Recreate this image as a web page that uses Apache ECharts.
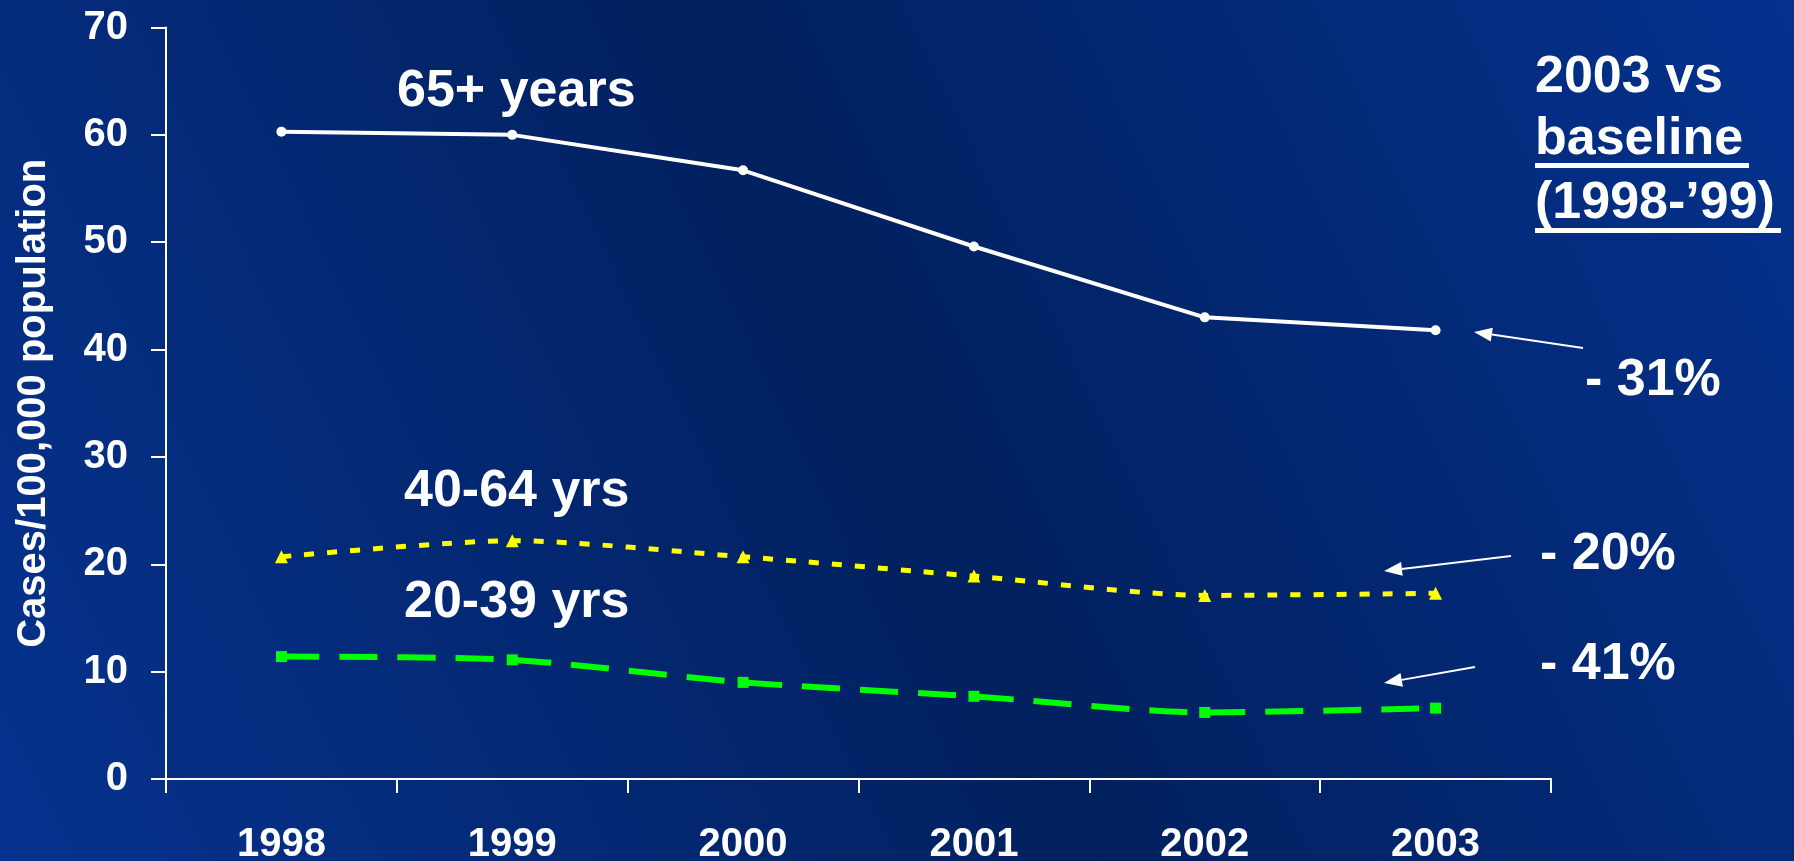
<!DOCTYPE html>
<html lang="en">
<head>
<meta charset="UTF-8">
<title>Cases per 100,000 by age group</title>
<style>
  html, body { margin: 0; padding: 0; background: #01205e; }
  #chart { width: 1794px; height: 861px; }
</style>
</head>
<body>
<div id="chart"></div>
<script src="https://cdn.jsdelivr.net/npm/echarts@6/dist/echarts.min.js"></script>
<script>
// values
var years = ['1998', '1999', '2000', '2001', '2002', '2003'];
var age65plus = [60.3, 60.0, 56.7, 49.6, 43.0, 41.8];
var age40to64 = [20.7, 22.2, 20.7, 18.9, 17.1, 17.3];
var age20to39 = [11.4, 11.1, 9.0, 7.7, 6.2, 6.6];
var changeLabels = ['- 31%', '- 20%', '- 41%'];

var FONT = 'Liberation Sans, Arial, sans-serif';

var chart = echarts.init(document.getElementById('chart'));

function txt(s, x, y) {
  return {
    type: 'text', x: x, y: y, silent: true,
    style: { text: s, fill: '#fff', font: 'bold 52px ' + FONT, align: 'left', verticalAlign: 'middle' }
  };
}

function underline(x1, x2, y) {
  return { type: 'rect', silent: true, shape: { x: x1, y: y, width: x2 - x1, height: 5 }, style: { fill: '#fff' } };
}

// thin white arrow, pointing from (x1,y1) to (x2,y2)
function arrow(x1, y1, x2, y2) {
  var a = Math.atan2(y2 - y1, x2 - x1);
  var len = 18, hw = 7;
  var bx = x2 - len * Math.cos(a), by = y2 - len * Math.sin(a);
  var px = -Math.sin(a) * hw, py = Math.cos(a) * hw;
  return {
    type: 'group', silent: true,
    children: [
      { type: 'line', shape: { x1: x1, y1: y1, x2: bx, y2: by }, style: { stroke: '#fff', lineWidth: 2 } },
      { type: 'polygon', shape: { points: [[x2, y2], [bx + px, by + py], [bx - px, by - py]] }, style: { fill: '#fff' } }
    ]
  };
}

var option = {
  backgroundColor: new echarts.graphic.LinearGradient(0, 1, 1, 0, [
    { offset: 0, color: '#06338f' },
    { offset: 0.5, color: '#01205e' },
    { offset: 1, color: '#04328e' }
  ]),
  animation: false,
  grid: { left: 166, right: 243, top: 27.5, bottom: 82, outerBoundsMode: 'none' },
  xAxis: {
    type: 'category',
    data: years,
    boundaryGap: true,
    axisLine: { lineStyle: { color: '#fff', width: 2 } },
    axisTick: { show: true, length: 14, interval: 0, lineStyle: { color: '#fff', width: 2 } },
    axisLabel: { color: '#fff', fontFamily: FONT, fontWeight: 'bold', fontSize: 40, margin: 46 },
    splitLine: { show: false }
  },
  yAxis: {
    type: 'value',
    min: 0, max: 70, interval: 10,
    name: 'Cases/100,000 population',
    nameLocation: 'middle',
    nameRotate: 90,
    nameGap: 112,
    nameTextStyle: { color: '#fff', fontFamily: FONT, fontWeight: 'bold', fontSize: 40 },
    axisLine: { show: true, lineStyle: { color: '#fff', width: 2 } },
    axisTick: { show: true, length: 15, lineStyle: { color: '#fff', width: 2 } },
    axisLabel: { color: '#fff', fontFamily: FONT, fontWeight: 'bold', fontSize: 40, margin: 38 },
    splitLine: { show: false }
  },
  series: [
    {
      name: '65+ years', type: 'line', data: age65plus,
      symbol: 'circle', symbolSize: 10, showAllSymbol: true,
      lineStyle: { color: '#fff', width: 4 },
      itemStyle: { color: '#fff' }
    },
    {
      name: '40-64 yrs', type: 'line', data: age40to64, smooth: 0.25,
      symbol: 'triangle', symbolSize: 13,
      lineStyle: { color: '#ffff00', width: 5, type: [10, 13] },
      itemStyle: { color: '#ffff00' }
    },
    {
      name: '20-39 yrs', type: 'line', data: age20to39, smooth: 0.25,
      symbol: 'rect', symbolSize: 11,
      lineStyle: { color: '#00ff00', width: 6, type: [38, 20] },
      itemStyle: { color: '#00ff00' }
    }
  ],
  graphic: [
    txt('65+ years', 397, 92),
    txt('40-64 yrs', 404, 492),
    txt('20-39 yrs', 404, 603),
    txt('2003 vs', 1535, 78),
    txt('baseline', 1535, 140),
    underline(1535, 1749, 163),
    txt('(1998-\u201999)', 1535, 204),
    underline(1535, 1781, 228),
    txt(changeLabels[0], 1585, 381),
    txt(changeLabels[1], 1540, 555),
    txt(changeLabels[2], 1540, 665),
    arrow(1583, 348, 1474, 332),
    arrow(1511, 556, 1384, 571),
    arrow(1475, 667, 1384, 683)
  ]
};

chart.setOption(option);
</script>
</body>
</html>
